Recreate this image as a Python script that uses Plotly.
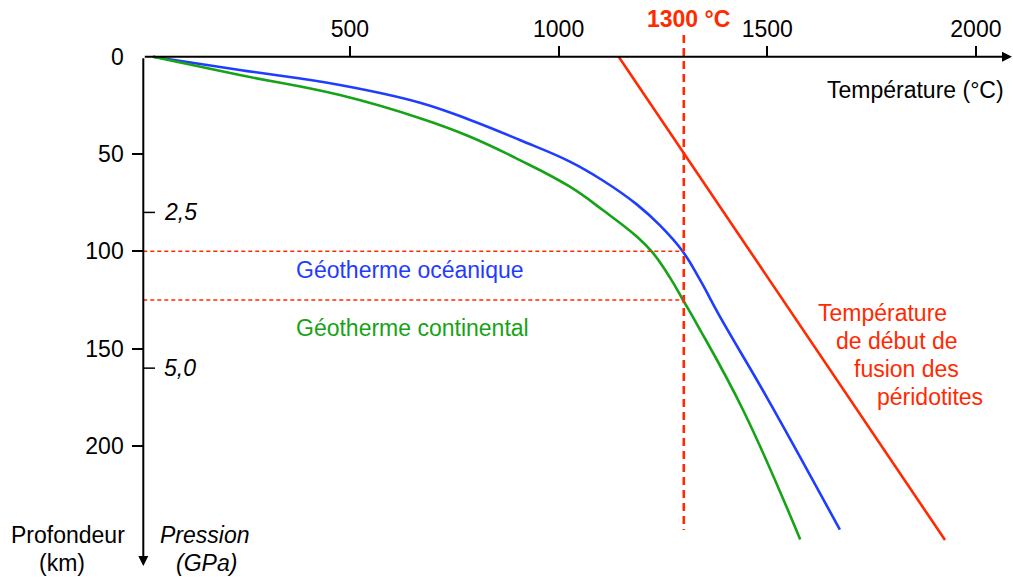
import plotly.graph_objects as go

# ---------------- data ----------------
temp_ticks = [500, 1000, 1500, 2000]
depth_ticks = [0, 50, 100, 150, 200]
pressure_labels = ["2,5", "5,0"]
pressure_depths = [80, 160]

ocean_T = [28, 236, 476, 668, 788, 907, 1027, 1106, 1188, 1243, 1298, 1339, 1387, 1499, 1674]
ocean_D = [0, 6.8, 14.5, 23.6, 32.5, 42.8, 53.9, 63.6, 76.0, 86.7, 100.2, 114.7, 133.7, 175, 243]

cont_T = [28, 236, 476, 668, 788, 907, 1027, 1106, 1188, 1226, 1267, 1298, 1332, 1442, 1579]
cont_D = [0, 9.4, 19.7, 31.6, 41.1, 53.1, 66.8, 78.8, 92.5, 100.8, 113.5, 125, 137.6, 181.5, 248]

solidus_T = [1144, 1926]
solidus_D = [0, 248.3]

ref_T = 1300
ocean_cross_D = 100
cont_cross_D = 125

# ---------------- pixel <-> data mapping ----------------
W, H = 1013, 580
X0PX, XSC = 141.3, 0.4173
Y0PX, YSC = 56.7, 1.9465


def tx(px):
    return (px - X0PX) / XSC


def dy(py):
    return (py - Y0PX) / YSC


AX_X = tx(143.3)  # temperature where the vertical axis sits

FONT = "Liberation Sans, Arial, sans-serif"
FS = 23
BLUE = "#1f3dff"
GREEN = "#17a317"
RED = "#ff2a00"

fig = go.Figure()

fig.add_trace(go.Scatter(x=ocean_T, y=ocean_D, mode="lines",
                         line=dict(color=BLUE, width=2.6, shape="spline", smoothing=1.2),
                         hoverinfo="skip", showlegend=False))
fig.add_trace(go.Scatter(x=cont_T, y=cont_D, mode="lines",
                         line=dict(color=GREEN, width=2.6, shape="spline", smoothing=1.2),
                         hoverinfo="skip", showlegend=False))
fig.add_trace(go.Scatter(x=solidus_T, y=solidus_D, mode="lines",
                         line=dict(color=RED, width=2.6),
                         hoverinfo="skip", showlegend=False))

# dashed reference lines
fig.add_shape(type="line", x0=ref_T, x1=ref_T, y0=dy(35), y1=dy(530),
              line=dict(color=RED, width=2.6, dash="8px,5px"))
for d in [ocean_cross_D, cont_cross_D]:
    fig.add_shape(type="line", x0=AX_X, x1=ref_T, y0=d, y1=d,
                  line=dict(color=RED, width=1.5, dash="4px,3px"))

# pressure ticks
for lab, d in zip(pressure_labels, pressure_depths):
    fig.add_shape(type="line", x0=AX_X, x1=tx(155), y0=d, y1=d,
                  line=dict(color="black", width=1.5))
    fig.add_annotation(x=tx(162), y=d, text="<i>" + lab + "</i>", showarrow=False,
                       xanchor="left", yanchor="middle",
                       font=dict(family=FONT, size=FS, color="black"))

# axis arrows
fig.add_annotation(x=tx(1012), y=0, ax=AX_X, ay=0, axref="x", ayref="y",
                   xref="x", yref="y", text="", showarrow=True,
                   arrowhead=2, arrowsize=1, arrowwidth=2, arrowcolor="black")
fig.add_annotation(x=AX_X, y=dy(566), ax=AX_X, ay=0, axref="x", ayref="y",
                   xref="x", yref="y", text="", showarrow=True,
                   arrowhead=2, arrowsize=1, arrowwidth=2, arrowcolor="black")


def label(text, px, py, color="black", xanchor="left"):
    fig.add_annotation(x=tx(px), y=dy(py), text=text, showarrow=False,
                       xanchor=xanchor, yanchor="middle",
                       font=dict(family=FONT, size=FS, color=color))


label("<b>1300 °C</b>", 688, 19, RED, "center")
label("Température (°C)", 1006, 90, "black", "right")
label("Géotherme océanique", 294, 270, BLUE)
label("Géotherme continental", 294, 328, GREEN)
label("Température", 816, 313, RED)
label("de début de", 834, 341, RED)
label("fusion des", 852, 369, RED)
label("péridotites", 875, 397, RED)
label("Profondeur", 68, 535, "black", "center")
label("(km)", 62, 563, "black", "center")
label("<i>Pression</i>", 204, 535, "black", "center")
label("<i>(GPa)</i>", 206, 563, "black", "center")

fig.update_layout(
    width=W, height=H,
    margin=dict(l=0, r=0, t=0, b=0),
    paper_bgcolor="white", plot_bgcolor="white",
    font=dict(family=FONT, size=FS, color="black"),
    xaxis=dict(range=[tx(0), tx(W)], side="top", anchor="free",
               position=1 - Y0PX / H,
               tickvals=temp_ticks, ticks="outside", ticklen=11,
               tickwidth=1.5, tickcolor="black",
               showline=False, showgrid=False, zeroline=False,
               tickfont=dict(family=FONT, size=FS, color="black")),
    yaxis=dict(range=[dy(H), dy(0)], anchor="free", position=143.3 / W,
               tickvals=depth_ticks, ticks="outside", ticklen=11,
               tickwidth=1.5, tickcolor="rgba(0,0,0,0)",
               minor=dict(tickvals=depth_ticks[1:], ticks="outside", ticklen=11,
                          tickwidth=1.5, tickcolor="black"),
               ticklabelstandoff=4,
               showline=False, showgrid=False, zeroline=False,
               tickfont=dict(family=FONT, size=FS, color="black")),
)

fig.write_html("out.html", config={"displayModeBar": False},
               post_script="document.body.style.margin='0';document.body.style.overflow='hidden';")
